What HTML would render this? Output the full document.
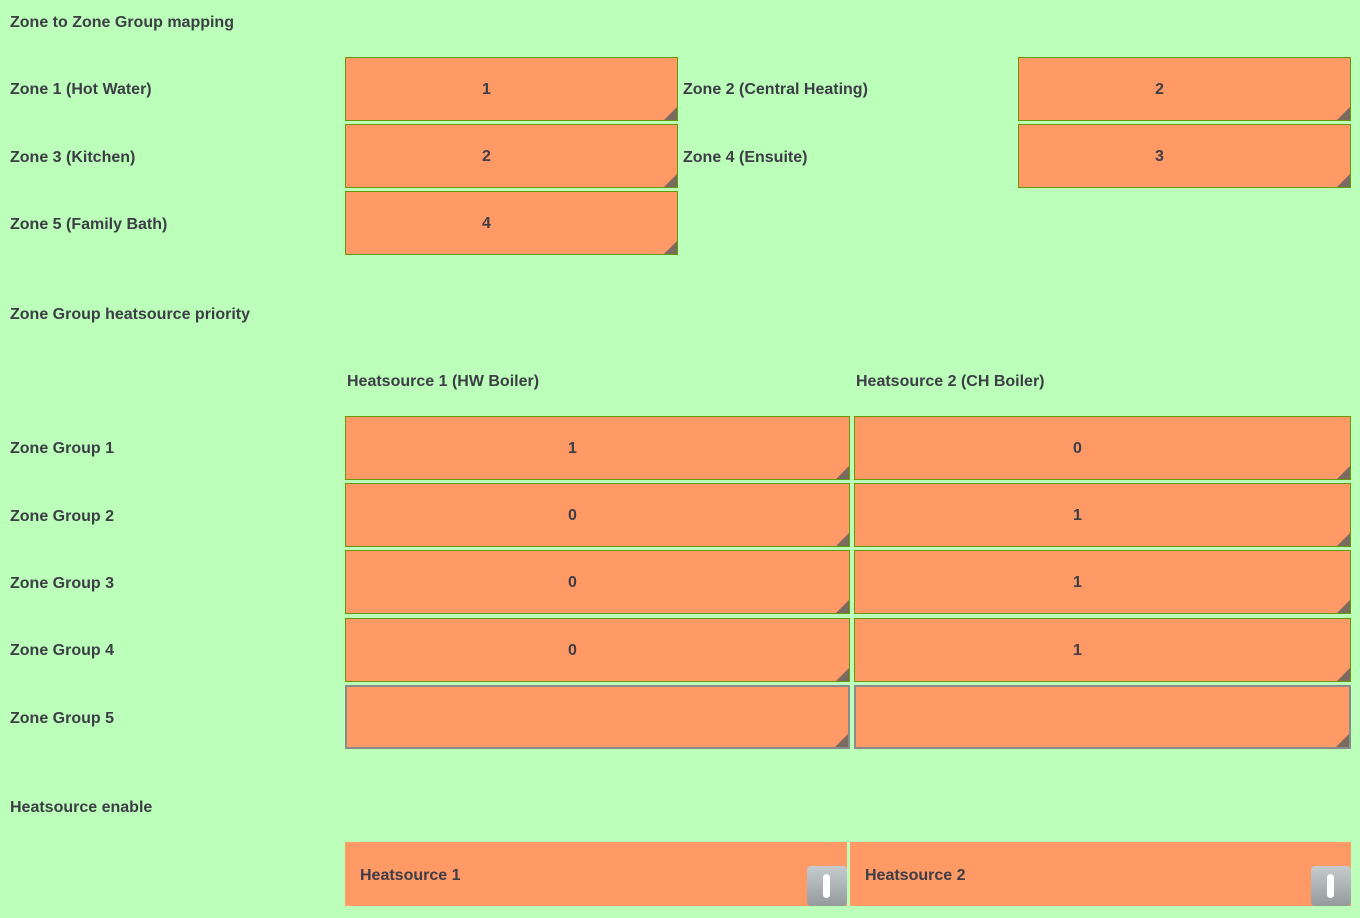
<!DOCTYPE html>
<html><head><meta charset="utf-8"><style>
body{margin:0;width:1360px;height:918px;background:#bbffbb;font-family:"Liberation Sans",Arial,sans-serif;font-weight:bold;font-size:16px;color:#3d3d45;position:relative;overflow:hidden}
.t{position:absolute;white-space:nowrap;line-height:20px;margin-top:2px}
.b{position:absolute;box-sizing:border-box;background:#ff9966;border:1px solid #669900;display:flex;align-items:center;justify-content:center;padding-right:50px;padding-top:2px}
.b.g{border:2px solid #888c8c}
.b::after{content:"";position:absolute;right:0;bottom:0;width:0;height:0;border-left:13px solid transparent;border-bottom:13px solid #7a6a60}
.e{position:absolute;background:#ff9966;box-sizing:border-box;padding-left:15px;padding-top:4px;display:flex;align-items:center}
.tg{position:absolute;width:40px;height:40px;border-radius:4px;background:linear-gradient(#c6cccd,#959a9d)}
.tg::after{content:"";position:absolute;left:16px;top:8px;width:7px;height:24px;border-radius:4px;background:#fff}
</style></head><body>
<div class="t" style="left:10px;top:11px">Zone to Zone Group mapping</div>
<div class="t" style="left:10px;top:78px">Zone 1 (Hot Water)</div>
<div class="t" style="left:683px;top:78px">Zone 2 (Central Heating)</div>
<div class="t" style="left:10px;top:146px">Zone 3 (Kitchen)</div>
<div class="t" style="left:683px;top:146px">Zone 4 (Ensuite)</div>
<div class="t" style="left:10px;top:213px">Zone 5 (Family Bath)</div>
<div class="b" style="left:345px;top:57px;width:333px;height:64px">1</div>
<div class="b" style="left:1018px;top:57px;width:333px;height:64px">2</div>
<div class="b" style="left:345px;top:124px;width:333px;height:64px">2</div>
<div class="b" style="left:1018px;top:124px;width:333px;height:64px">3</div>
<div class="b" style="left:345px;top:191px;width:333px;height:64px">4</div>

<div class="t" style="left:10px;top:303px">Zone Group heatsource priority</div>
<div class="t" style="left:347px;top:370px">Heatsource 1 (HW Boiler)</div>
<div class="t" style="left:856px;top:370px">Heatsource 2 (CH Boiler)</div>

<div class="t" style="left:10px;top:437px">Zone Group 1</div>
<div class="t" style="left:10px;top:505px">Zone Group 2</div>
<div class="t" style="left:10px;top:572px">Zone Group 3</div>
<div class="t" style="left:10px;top:639px">Zone Group 4</div>
<div class="t" style="left:10px;top:707px">Zone Group 5</div>

<div class="b" style="left:345px;top:416px;width:505px;height:64px">1</div>
<div class="b" style="left:854px;top:416px;width:497px;height:64px">0</div>
<div class="b" style="left:345px;top:483px;width:505px;height:64px">0</div>
<div class="b" style="left:854px;top:483px;width:497px;height:64px">1</div>
<div class="b" style="left:345px;top:550px;width:505px;height:64px">0</div>
<div class="b" style="left:854px;top:550px;width:497px;height:64px">1</div>
<div class="b" style="left:345px;top:618px;width:505px;height:64px">0</div>
<div class="b" style="left:854px;top:618px;width:497px;height:64px">1</div>
<div class="b g" style="left:345px;top:685px;width:505px;height:64px"></div>
<div class="b g" style="left:854px;top:685px;width:497px;height:64px"></div>

<div class="t" style="left:10px;top:796px">Heatsource enable</div>
<div class="e" style="left:345px;top:842px;width:502px;height:64px">Heatsource 1</div>
<div class="e" style="left:850px;top:842px;width:501px;height:64px">Heatsource 2</div>
<div class="tg" style="left:807px;top:866px"></div>
<div class="tg" style="left:1311px;top:866px"></div>
</body></html>
